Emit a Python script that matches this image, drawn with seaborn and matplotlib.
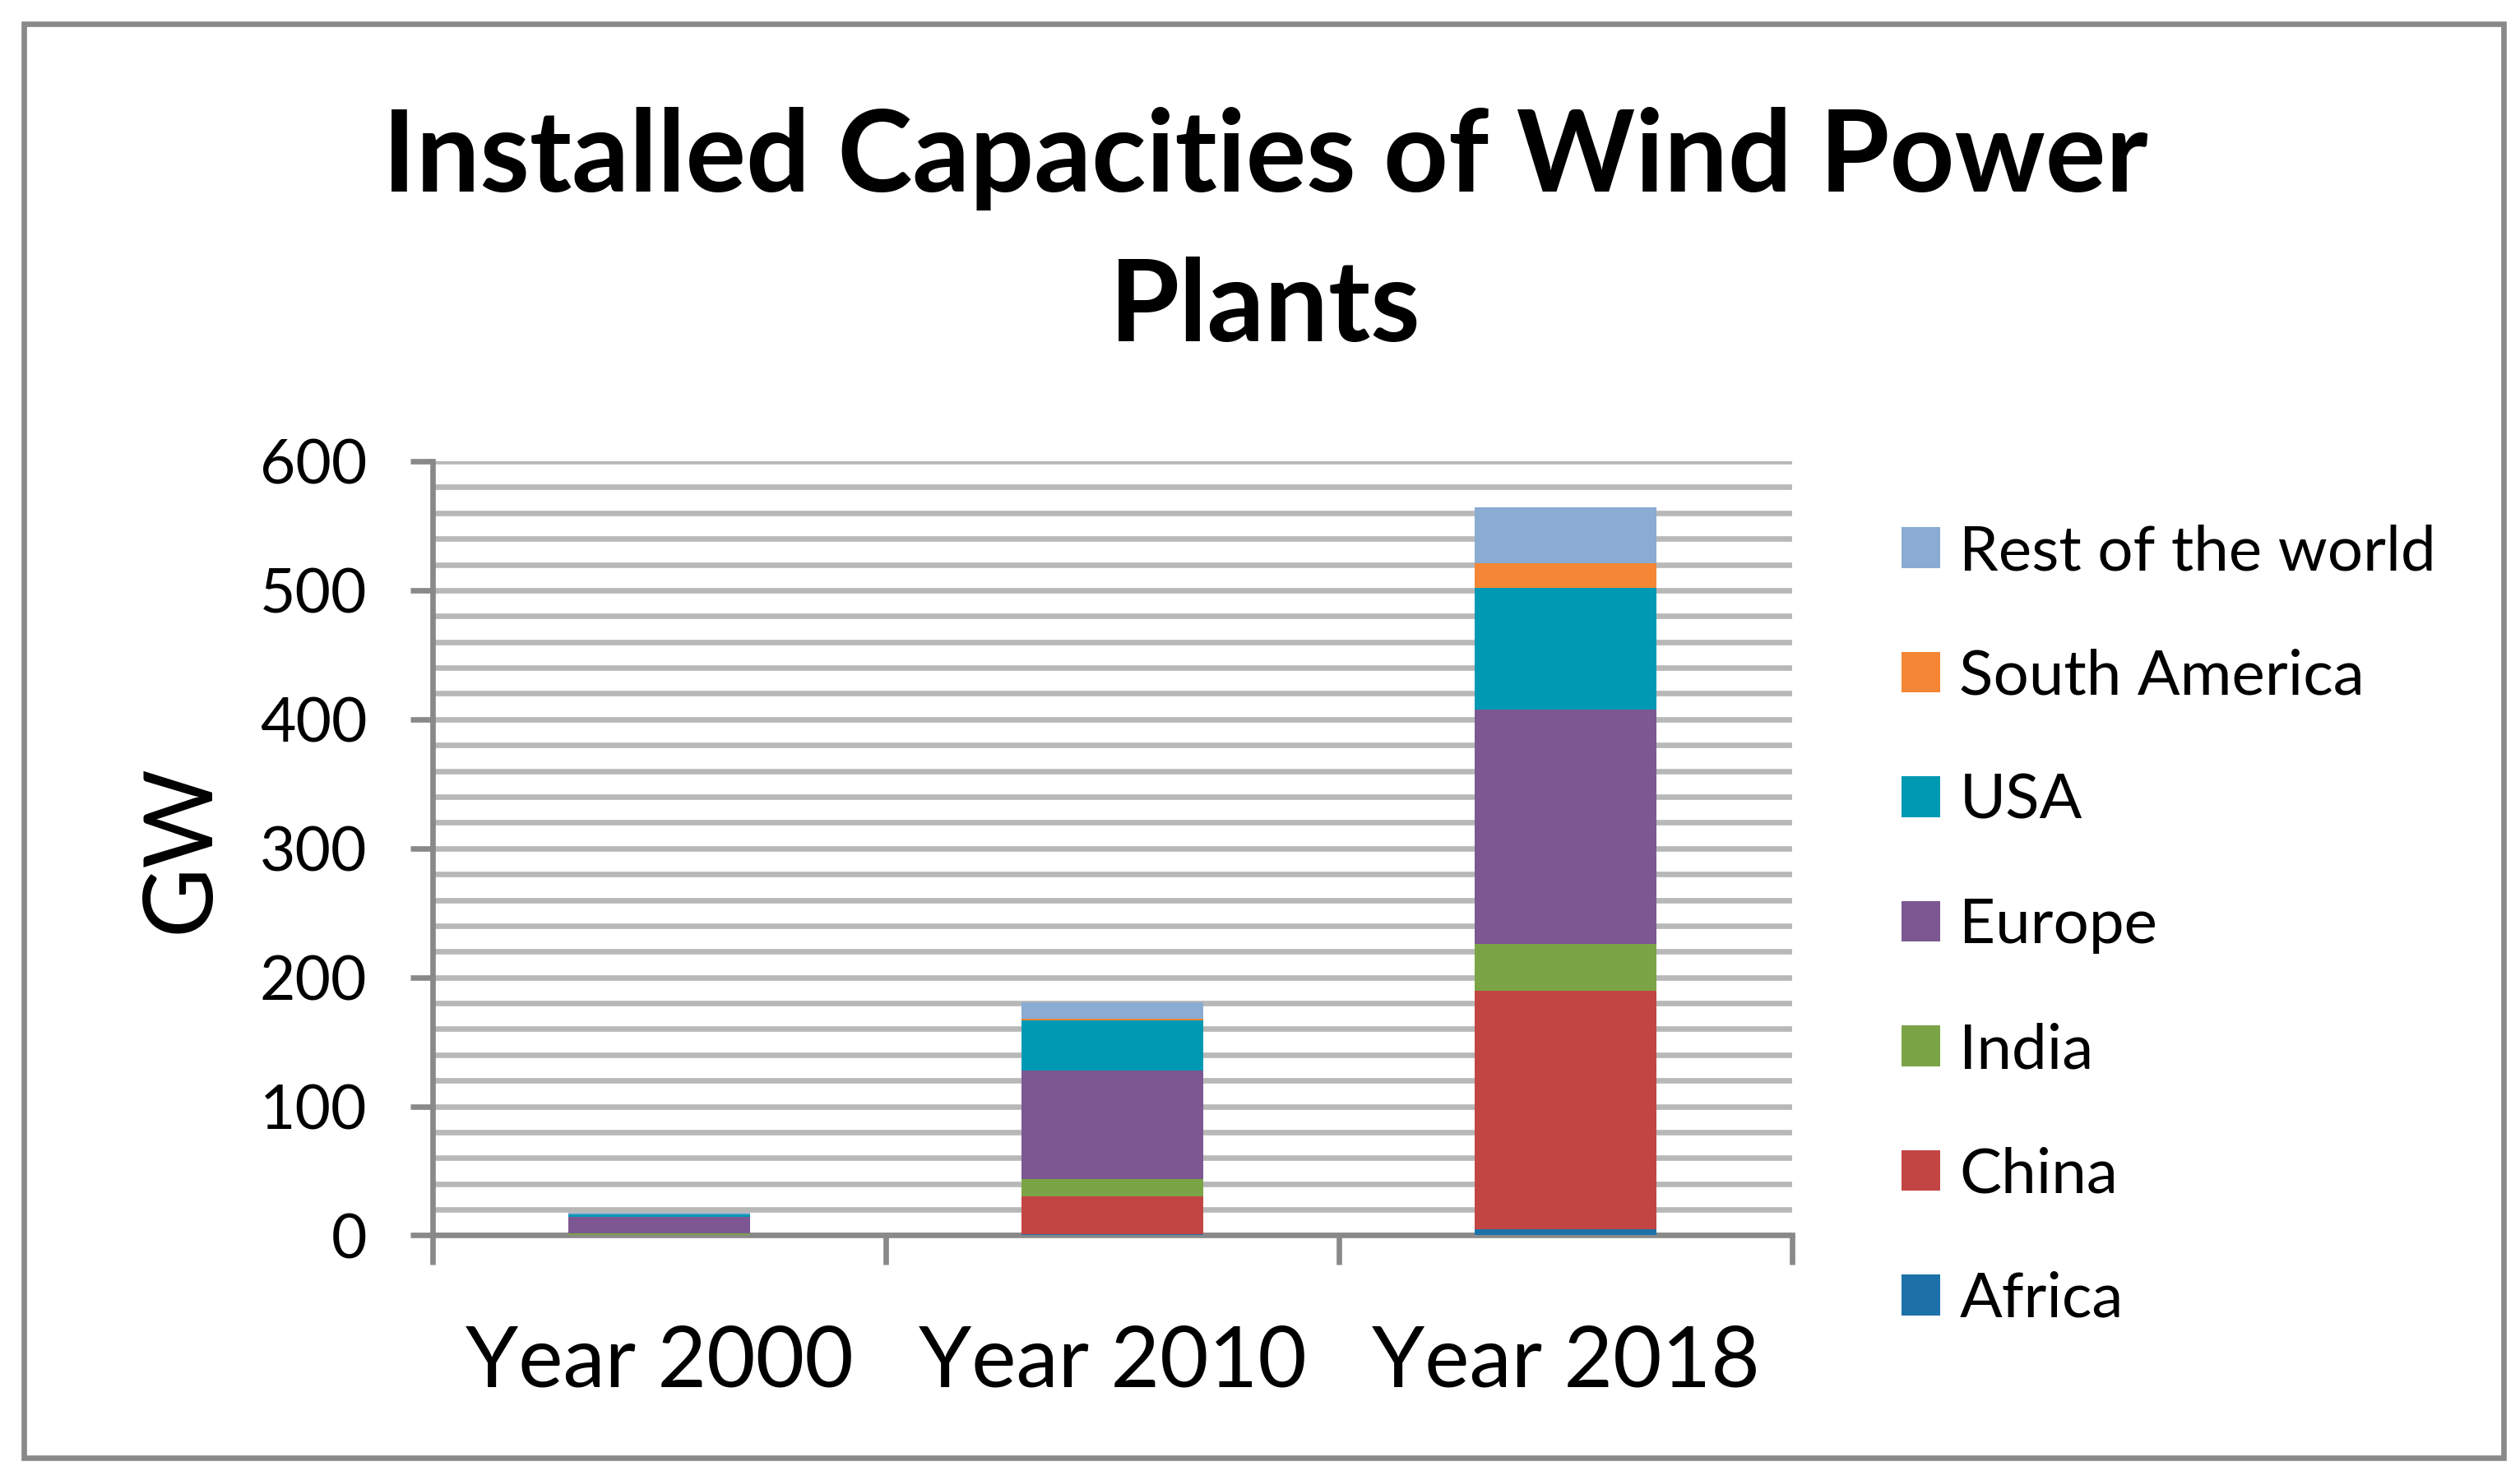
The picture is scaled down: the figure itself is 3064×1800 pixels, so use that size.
import matplotlib
matplotlib.use("Agg")
import matplotlib.pyplot as plt
from matplotlib.patches import Rectangle, Patch
from matplotlib.ticker import MultipleLocator, FixedLocator
import numpy as np
import pandas as pd
import seaborn as sns

# Datos (GW)
years = ["Year 2000", "Year 2010", "Year 2018"]
regions = ["Africa", "China", "India", "Europe", "USA", "South America", "Rest of the world"]
africa = [0.1, 0.9, 5.0]
china = [0.3, 29.3, 184.8]
india = [1.2, 13.3, 36.0]
europe = [12.7, 84.4, 182.0]
usa = [2.0, 38.8, 94.0]
south_america = [0.1, 1.4, 19.0]
rest_world = [1.3, 12.7, 43.8]

colors = ["#1C71A9", "#C34543", "#7BA446", "#7C5792", "#0099B4", "#F48635", "#8AABD2"]

FONT = "Lato"
GRID = "#B8B8B8"
AXIS = "#898989"


def build_table():
    """Tabla larga con una fila por ano y region"""
    values = [africa, china, india, europe, usa, south_america, rest_world]
    rows = []
    for reg, vals in zip(regions, values):
        for yr, v in zip(years, vals):
            rows.append({"year": yr, "region": reg, "gw": v})
    return pd.DataFrame(rows)


def plot_stacked(df):
    sns.set_style("white")
    plt.rcParams["font.family"] = [FONT, "DejaVu Sans"]
    plt.rcParams["text.color"] = "black"
    plt.rcParams["xtick.labelcolor"] = "black"
    plt.rcParams["ytick.labelcolor"] = "black"
    plt.rcParams["axes.labelcolor"] = "black"

    fig = plt.figure(figsize=(15.32, 9.0), dpi=200)
    ax = fig.add_axes([0.17167, 0.16528, 0.53949, 0.52306])

    bottom = np.zeros(len(years))
    for reg, col in zip(regions, colors):
        sub = df[df["region"] == reg]
        sns.barplot(data=sub, x="year", y="gw", order=years, color=col, saturation=1,
                    width=0.4, bottom=bottom, linewidth=0, errorbar=None,
                    ax=ax, zorder=3)
        bottom = bottom + sub["gw"].to_numpy()

    ax.set_xlim(-0.5, 2.5)
    ax.set_ylim(0, 600)
    ax.yaxis.set_major_locator(MultipleLocator(100))
    ax.yaxis.set_minor_locator(MultipleLocator(20))
    ax.xaxis.set_minor_locator(FixedLocator([-0.5, 0.5, 1.5, 2.5]))

    ax.set_axisbelow(True)
    ax.grid(axis="y", which="both", color=GRID, linewidth=2.4)
    ax.grid(axis="x", visible=False)

    for s in ["top", "right"]:
        ax.spines[s].set_visible(False)
    for s in ["left", "bottom"]:
        ax.spines[s].set_color(AXIS)
        ax.spines[s].set_linewidth(2.4)

    ax.tick_params(axis="y", which="major", direction="out", length=9.7, width=2.4,
                   color=AXIS, labelsize=27, pad=19, left=True, labelcolor="black")
    ax.tick_params(axis="y", which="minor", length=0)
    ax.tick_params(axis="x", which="major", length=0, labelsize=37, pad=39, bottom=True,
                   labelcolor="black")
    ax.tick_params(axis="x", which="minor", direction="out", length=13, width=2.4,
                   color=AXIS, bottom=True)

    ax.set_xlabel("")
    ax.set_ylabel("GW", fontsize=42, color="black")
    ax.yaxis.set_label_coords(-0.153, 0.5)

    # Titulo en dos lineas
    fig.text(0.502, 1 - 233 / 1800, "Installed Capacities of Wind Power", ha="center",
             va="baseline", fontsize=49.5, fontweight="bold", color="black")
    fig.text(0.502, 1 - 415 / 1800, "Plants", ha="center", va="baseline",
             fontsize=49.5, fontweight="bold", color="black")

    # Leyenda en orden inverso
    handles = [Patch(facecolor=c, edgecolor="none") for c in colors][::-1]
    labels = regions[::-1]
    fig.legend(handles, labels, loc="upper left", bbox_to_anchor=(2312 / 3064, 1 - 637 / 1800),
               frameon=False, fontsize=27.5, handlelength=0.62, handleheight=0.62,
               handletextpad=0.3, labelspacing=1.08, borderpad=0, borderaxespad=0,
               labelcolor="black")

    # Marco exterior
    fig.patches.append(Rectangle((29 / 3064, 1 - 1772.5 / 1800), 3015 / 3064, 1743.5 / 1800,
                                 transform=fig.transFigure, fill=False,
                                 edgecolor=AXIS, linewidth=2.4))

    fig.savefig("out.png", dpi=200)


if __name__ == "__main__":
    plot_stacked(build_table())
